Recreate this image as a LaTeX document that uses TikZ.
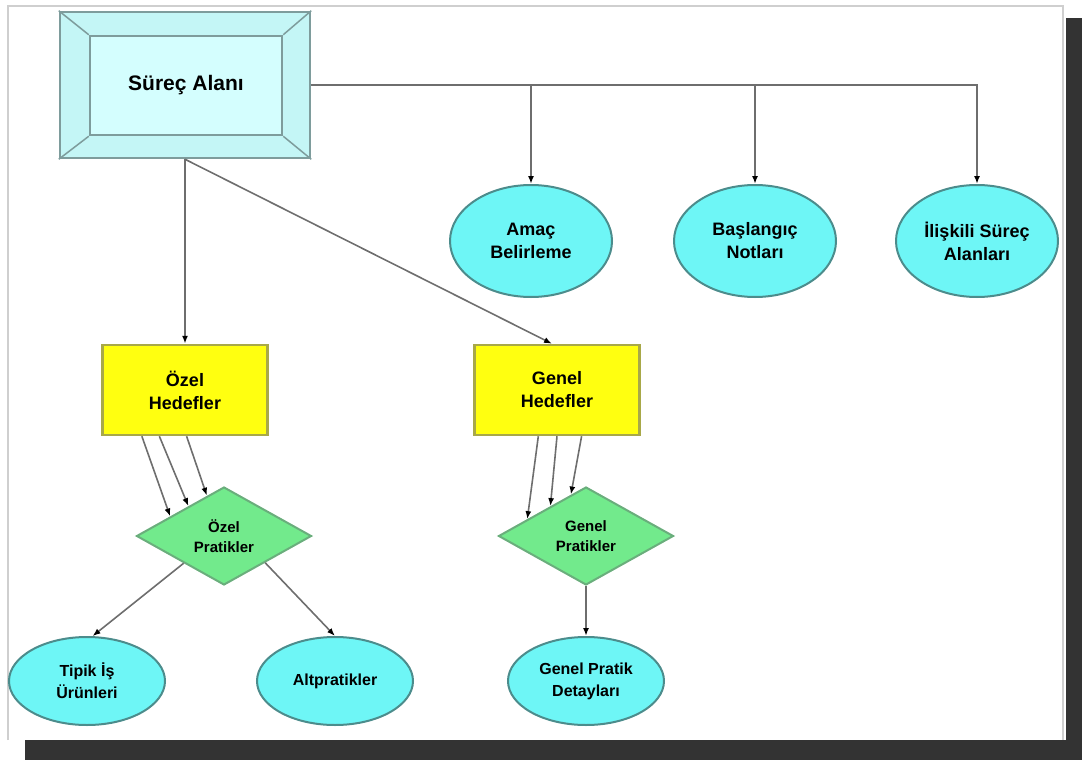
\documentclass[tikz,border=0pt]{standalone}
\usepackage{fontspec}
\setmainfont{Liberation Sans}
\usepackage{xcolor}
\usetikzlibrary{arrows.meta}
\usetikzlibrary{positioning}
\usetikzlibrary{shapes.geometric}

\definecolor{bevelcyan}{HTML}{C4F6F6}
\definecolor{boxcyan}{HTML}{D4FEFE}
\definecolor{bevelline}{HTML}{7E9C9C}
\definecolor{ovalcyan}{HTML}{6EF6F6}
\definecolor{ovalline}{HTML}{4C8C8C}
\definecolor{goalyellow}{HTML}{FFFF10}
\definecolor{goalline}{HTML}{A8A848}
\definecolor{practgreen}{HTML}{72EA8C}
\definecolor{practline}{HTML}{6AAE7C}
\definecolor{linkgrey}{HTML}{6E6E6E}
\definecolor{framegrey}{HTML}{CFCFCF}
\definecolor{shadowgrey}{HTML}{333333}

\begin{document}
\begin{tikzpicture}[x=1pt, y=1pt,
  oval/.style={ellipse, draw=ovalline, line width=2pt, fill=ovalcyan, minimum width=162pt, minimum height=112pt, inner sep=0pt, align=center, font=\bfseries\fontsize{18}{23}\selectfont},
  lowoval/.style={oval, minimum width=156pt, minimum height=88pt, font=\bfseries\fontsize{16}{22}\selectfont},
  goal/.style={rectangle, draw=goalline, line width=2.5pt, fill=goalyellow, minimum width=165pt, minimum height=90pt, align=center, font=\bfseries\fontsize{18}{23}\selectfont},
  pract/.style={diamond, draw=practline, line width=2pt, fill=practgreen, minimum width=175pt, minimum height=98pt, aspect=1.8, inner sep=0pt, align=center, font=\bfseries\fontsize{15}{20}\selectfont},
  link/.style={draw=linkgrey, line width=1.6pt, -{Latex[black, length=8pt, width=6pt]}}]

\useasboundingbox (0,0) rectangle (1082,-760);

% Frame
\draw[framegrey, line width=2pt] (8,-740) -- (8,-6) -- (1063,-6) -- (1063,-740);
\fill[shadowgrey] (25,-740) rectangle (1082,-760);
\fill[shadowgrey] (1066,-18) rectangle (1082,-760);

% Nodes
\node[rectangle, draw=bevelline, line width=2.5pt, fill=bevelcyan, minimum width=250pt, minimum height=146pt] at (185,-85) (sa) {};
\node[rectangle, draw=bevelline, line width=2.5pt, fill=boxcyan, minimum width=192pt, minimum height=99pt, font=\bfseries\fontsize{21}{24}\selectfont] at (186,-85.5) (sain) {Süreç Alanı};
\draw[bevelline, line width=1.5pt] (sa.north west) -- (sain.north west);
\draw[bevelline, line width=1.5pt] (sa.north east) -- (sain.north east);
\draw[bevelline, line width=1.5pt] (sa.south west) -- (sain.south west);
\draw[bevelline, line width=1.5pt] (sa.south east) -- (sain.south east);

\node[oval] at (531,-241) (amac) {Amaç\\Belirleme};
\node[oval] at (755,-241) (basl) {Başlangıç\\Notları};
\node[oval] at (977,-241) (ilis) {İlişkili Süreç\\Alanları};

\node[goal] at (185,-390) (ozh) {Özel\\Hedefler};
\node[goal] at (557,-390) (genh) {Genel\\Hedefler};

\node[pract] at (224,-536) (ozp) {Özel\\Pratikler};
\node[pract] at (586,-536) (genp) {Genel\\Pratikler};

\node[lowoval] at (87,-681) (tipik) {Tipik İş\\Ürünleri};
\node[lowoval] at (335,-681) (alt) {Altpratikler};
\node[lowoval] at (586,-681) (gpd) {Genel Pratik\\Detayları};

% Lines
\draw[link] (sa.east) -| (ilis.north);
\draw[link] (sa.east -| amac.north) -- (amac.north);
\draw[link] (sa.east -| basl.north) -- (basl.north);
\draw[link] (sa.south) -- (ozh.north);
\draw[link] (sa.south) -- ([xshift=-5pt]genh.north);

\draw[link] (ozh.227) -- (ozp.160);
\draw[link] (ozh.241) -- (ozp.140);
\draw[link] (ozh.272) -- (ozp.113);
\draw[link] (genh.248) -- (genp.164);
\draw[link] (genh.270) -- (genp.140);
\draw[link] (genh.298) -- (genp.110);

\draw[link] (ozp.214) -- (tipik.83);
\draw[link] (ozp.327) -- (alt.north);
\draw[link] (genp.south) -- (gpd.north);

\end{tikzpicture}
\end{document}
